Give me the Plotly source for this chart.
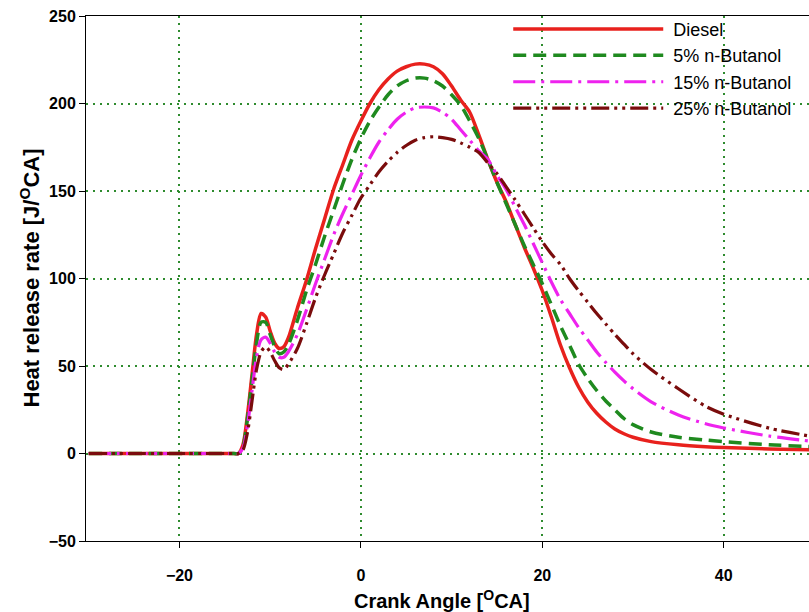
import plotly.graph_objects as go

crank_angle = [-30, -14, -13.5, -13, -12.5, -12, -11.5, -11, -10.5, -10, -9.5, -9, -8.5, -8,
               -7, -6, -5, -4, -3, -2, -1, 0, 1, 2, 3, 4, 5, 6, 7, 8, 9, 10, 11, 12, 13,
               14, 15, 16, 17, 18, 19, 20, 21, 22, 23, 24, 25, 26, 27, 28, 29, 30, 32, 35, 38,
               40, 45, 50]

diesel = [0, 0, 0, 5, 22, 45, 68, 80, 78, 70, 63, 60, 61, 66,
          83, 99, 117, 134, 151, 165, 179, 190, 200, 208, 214, 218.5, 221, 222.5, 222.5, 221, 217, 210, 202, 195, 182,
          168, 155, 144, 131, 118, 106, 93, 78, 62, 49, 38, 29.5, 23, 18, 14, 11.3, 9.3, 6.8, 5, 3.9,
          3.4, 2.6, 2]

butanol_5 = [0, 0, 0, 4, 20, 42, 63, 75, 75, 68, 61, 57, 58, 62,
             76, 93, 108, 124, 139, 154, 168, 180, 190, 198, 205, 210, 213, 214.5, 214.5, 213, 210, 205, 199, 190, 180,
             168, 155, 143, 131, 119, 108, 97, 85, 73, 62, 51, 43, 36, 30, 25, 20, 16.5, 12.3, 9.3, 7.7,
             6.8, 5, 3.9]

butanol_15 = [0, 0, 0, 3, 16, 36, 55, 65, 66.5, 63, 58, 55, 55, 58,
              68, 82, 97, 111, 125, 137, 148, 159, 169, 178, 185, 191, 195, 197.5, 198, 197.5, 195, 191, 185, 179, 173,
              168, 159, 151, 141, 131, 120, 109, 98, 88, 80, 72, 65, 58, 52, 46.5, 41.5, 37, 29.5, 22, 17,
              14.6, 10, 6.8]

butanol_25 = [0, 0, 0, 2, 12, 30, 48, 58, 61, 58, 53, 49, 48, 51,
              60, 74, 89, 102, 114, 126, 136, 146, 153.5, 161, 167, 172, 176, 179, 180.5, 181, 180.5, 179.5, 177.5, 175, 172,
              166, 160, 152.5, 145, 137, 129, 121, 114, 108, 100, 93, 86.5, 80, 74, 68, 62.5, 57, 48, 37, 27,
              22.5, 14.5, 9.5]

series_names = ["Diesel", "5% n-Butanol", "15% n-Butanol", "25% n-Butanol"]
series_values = [diesel, butanol_5, butanol_15, butanol_25]
colors = ["#e8211d", "#1f8a1f", "#ee22ee", "#7a0c0c"]
dashes = ["solid", "13px,7px", "22px,6px,3px,6px", "18px,5px,3px,5px,3px,5px"]
widths = [3.5, 3.5, 3.2, 3.2]

fig = go.Figure()
pad = "\u00a0"
for name, vals, c, d, w in zip(series_names, series_values, colors, dashes, widths):
    fig.add_trace(go.Scatter(x=crank_angle, y=vals, mode="lines", name=pad + name,
                             line=dict(color=c, dash=d, width=w, shape="spline", smoothing=0.8)))

grid_color = "#2e8b2e"
font_family = "Liberation Sans, Arial, sans-serif"

fig.update_layout(
    width=809, height=612,
    margin=dict(l=86, r=0, t=16, b=71, autoexpand=False),
    plot_bgcolor="white", paper_bgcolor="white",
    font=dict(family=font_family, color="black", size=16),
    showlegend=True,
    legend=dict(x=0.584, y=1.01, xanchor="left", yanchor="top",
                bgcolor="rgba(0,0,0,0)", borderwidth=0,
                itemwidth=150, font=dict(size=18, family=font_family, color="black"),
                tracegroupgap=0),
    xaxis=dict(range=[-30.3, 49.4], tick0=0, dtick=20, ticks="outside", ticklen=6,
               tickcolor="black", showline=True, linecolor="black", linewidth=1, mirror=True,
               showgrid=True, gridcolor=grid_color, gridwidth=2, griddash="2px,5px",
               zeroline=False, tickfont=dict(size=16, family=font_family, weight="bold"),
               ticklabelstandoff=14, title=None),
    yaxis=dict(range=[-50, 250], tick0=0, dtick=50, ticks="outside", ticklen=6,
               tickcolor="black", showline=True, linecolor="black", linewidth=1,
               showgrid=True, gridcolor=grid_color, gridwidth=2, griddash="2px,5px",
               zeroline=False, tickfont=dict(size=16, family=font_family, weight="bold"),
               title=None),
    annotations=[
        dict(text="<b>Crank Angle [<sup>O</sup>CA]</b>", xref="x", yref="paper",
             x=8.9, y=0, xanchor="center", yanchor="top", yshift=-44, showarrow=False,
             font=dict(size=20, family=font_family, color="black")),
        dict(text="<b>Heat release rate [J/<sup>O</sup>CA]</b>", xref="paper", yref="paper",
             x=0, y=0.5, xanchor="center", yanchor="middle", xshift=-57, textangle=-90,
             showarrow=False, font=dict(size=22, family=font_family, color="black")),
    ],
)

fig.write_html("out.html")
